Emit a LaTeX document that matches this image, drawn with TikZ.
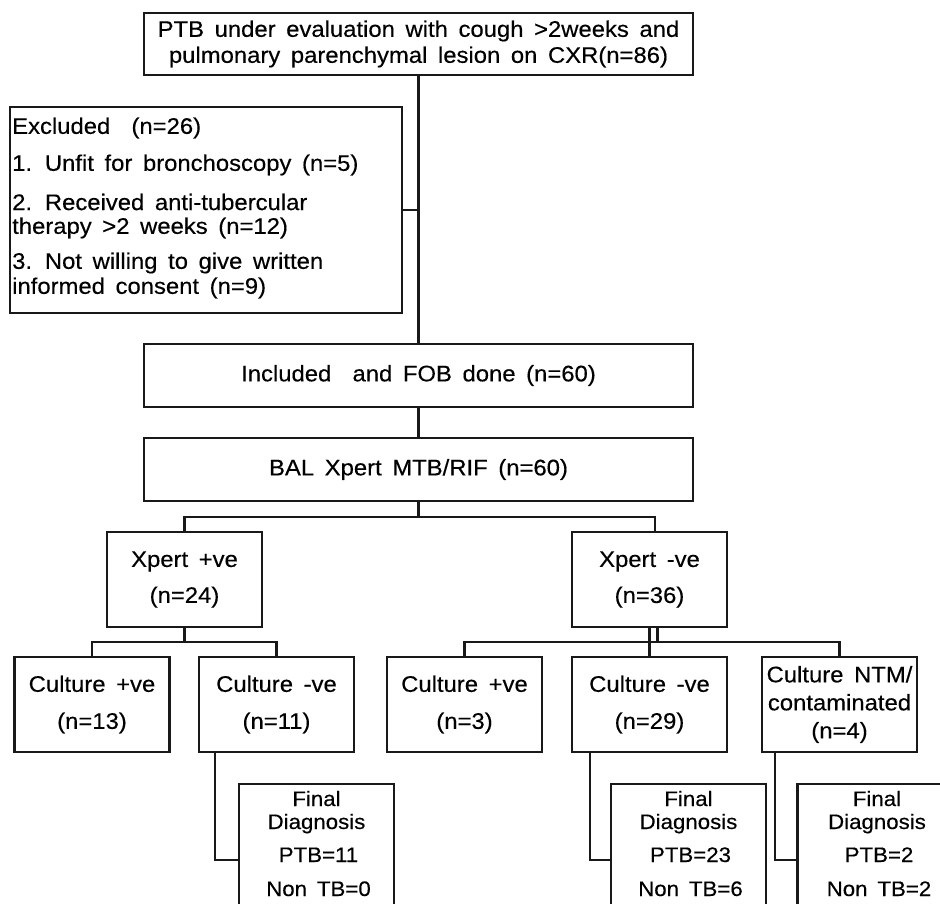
\documentclass[tikz,border=0pt]{standalone}
\usepackage{fontspec}
\setmainfont{Liberation Sans}[FakeStretch=1.06, WordSpace=1.6, FakeBold=0.35]
\begin{document}
\begin{tikzpicture}[x=1pt,y=-1pt,
  box/.style={draw=black!90, line width=2.2pt, inner sep=0pt, align=center,
    font=\fontsize{22.5}{26}\selectfont},
  tbox/.style={box, minimum width=155pt, minimum height=95pt},
  txt/.style={inner sep=0pt, font=\fontsize{22.5}{26}\selectfont},
  ftxt/.style={inner sep=0pt, anchor=base, font=\fontsize{21}{24}\selectfont},
  con/.style={draw=black!90, line width=2.2pt}]
\useasboundingbox (0,0) rectangle (940,904);
\clip (0,0) rectangle (940,904);

% top
\node[box, minimum width=549pt, minimum height=62pt] (top) at (418.5,44)
  {PTB under evaluation with cough >2weeks and\\pulmonary parenchymal lesion on CXR(n=86)};

% excluded
\node[box, minimum width=392pt, minimum height=206pt] (excl) at (206,210) {};
\node[txt, anchor=west] (e0) at (12,128) {Excluded\ \ (n=26)};
\node[txt, anchor=west] (e1) at (12,165) {1. Unfit for bronchoscopy (n=5)};
\node[txt, anchor=west] (e2) at (12,202) {2. Received anti-tubercular};
\node[txt, anchor=west] (e3) at (12,228) {therapy >2 weeks (n=12)};
\node[txt, anchor=west] (e4) at (12,263) {3. Not willing to give written};
\node[txt, anchor=west] (e5) at (12,288) {informed consent (n=9)};

% included / BAL
\node[box, minimum width=549pt, minimum height=63pt] (incl) at (418.5,375.5)
  {Included\ \ and FOB done (n=60)};
\node[box, minimum width=549pt, minimum height=63pt] (bal) at (418.5,469.5)
  {BAL Xpert MTB/RIF (n=60)};

% xpert
\node[box, minimum width=155pt, minimum height=95pt,
  font=\fontsize{22.5}{36}\selectfont] (xp) at (184.5,579.5) {Xpert +ve\\(n=24)};
\node[box, minimum width=155pt, minimum height=95pt,
  font=\fontsize{22.5}{36}\selectfont] (xn) at (649.5,579.5) {Xpert -ve\\(n=36)};

% cultures
\node[tbox, font=\fontsize{22.5}{37}\selectfont] (c1) at (92,704.5) {Culture +ve\\(n=13)};
\node[tbox, font=\fontsize{22.5}{37}\selectfont] (c2) at (276.5,704.5) {Culture -ve\\(n=11)};
\node[tbox, font=\fontsize{22.5}{37}\selectfont] (c3) at (464.5,704.5) {Culture +ve\\(n=3)};
\node[tbox, font=\fontsize{22.5}{37}\selectfont] (c4) at (649.5,704.5) {Culture -ve\\(n=29)};
\node[tbox, font=\fontsize{22.5}{28}\selectfont] (c5) at (839.5,704.5) {Culture NTM/\\contaminated\\(n=4)};

% final diagnosis boxes
\node[box, minimum width=155pt, minimum height=140pt, anchor=north] (fa) at (316.5,783) {};
\node[box, minimum width=155pt, minimum height=140pt, anchor=north] (fb) at (688.5,783) {};
\node[box, minimum width=155pt, minimum height=140pt, anchor=north] (fc) at (875,783) {};
\foreach \n/\x/\p/\q in {a/316.5/11/0, b/688.5/23/6, c/877/2/2}{
  \node[ftxt] (f\n1) at (\x,806) {Final};
  \node[ftxt] (f\n2) at (\x,829) {Diagnosis};
  \node[ftxt] (f\n3) at (\x+2,862) {PTB=\p};
  \node[ftxt] (f\n4) at (\x+2,896) {Non TB=\q};
}

% connectors
\coordinate (j1) at (418.5,210);
\draw[con] (top.south) -- (incl.north);
\draw[con] (excl.east |- j1) -- (j1);
\draw[con] (incl.south) -- (bal.north);
\coordinate (b1) at (418.5,517);
\draw[con] (bal.south) -- (b1);
\draw[con] (xp.north) |- (655,517) -- (655,532);
\coordinate (p1) at (184.5,642);
\draw[con] (xp.south) -- (p1);
\draw[con] (c1.north) |- (c2.north |- p1) -- (c2.north);
\coordinate (n1) at (649.5,642);
\draw[con] (xn.south) -- (n1);
\draw[con] (657.5,627) -- (657.5,642);
\draw[con] (c3.north) |- (c5.north |- n1) -- (c5.north);
\draw[con] (n1) -- (c4.north);
\draw[con] (c2.south -| 215,0) |- (fa.west |- 0,860);
\draw[con] (c4.south -| 590,0) |- (fb.west |- 0,860);
\draw[con] (c5.south -| 775,0) |- (fc.west |- 0,860);
\end{tikzpicture}
\end{document}
